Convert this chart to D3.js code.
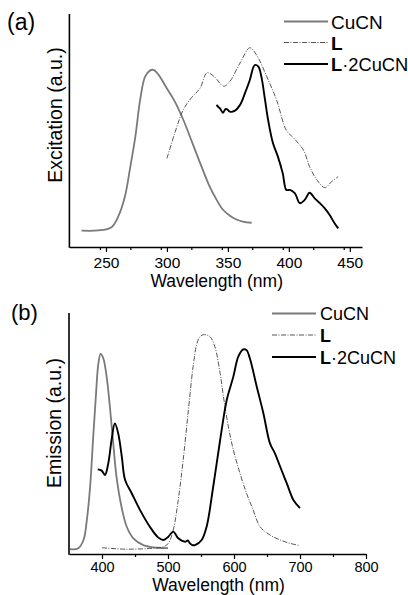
<!DOCTYPE html>
<html><head><meta charset="utf-8">
<script src="https://cdn.jsdelivr.net/npm/d3@7"></script>
<style>body{margin:0;background:#fff}svg{display:block}text{font-family:"Liberation Sans",Arial,sans-serif;fill:#000}</style>
</head><body>
<svg id="c" width="408" height="595"></svg>
<script>
// ---- data: panel (a) excitation [wavelength nm, intensity a.u.]
const excCuCN = [[230,7],[248,7.3],[255,8.7],[260,13],[265.5,21.6],[269.5,33],[274,47],[278,63],[282,73],[286,75.7],[289,76],[293,74],[300,68],[306.5,62.4],[313.5,54.5],[321,44.5],[328,35],[335,26],[341,20],[346,16],[352,13.3],[357,11.8],[363,10.8],[369.5,10.4]];
const excL = [[300,38],[306.5,49],[313.5,59],[320,64],[327,68],[333,74.8],[339,73],[346.5,69],[351.5,71],[360,79],[368,85.5],[373.5,82.4],[382,73],[390,63],[398,50],[403.5,47],[412,41.6],[417,34.5],[423,28.8],[429.5,25.5],[435,28],[440.5,30.2]];
const excLCuCN = [[340.7,61],[342,60.2],[343.5,59.5],[346,57.6],[348,59.2],[349.5,59.1],[351.5,58.1],[355.5,58.4],[360,61],[364,66],[368,71.7],[372,78.1],[375,77.4],[377.5,73],[380.5,63],[383,54.5],[387,44.5],[391,38.8],[395,31.6],[398,24.5],[401,24.5],[405,23],[409,18.8],[413,20.2],[417,23.3],[421,21],[423,20],[425.5,18.8],[429.5,16.6],[433.5,13.7],[437.5,10.2],[440.5,8]];
// ---- data: panel (b) emission
const emCuCN = [[351.5,2],[364,2.4],[372,5.8],[377,14],[382,28],[387,50],[391,66.7],[394.5,79],[398,83],[402,81.2],[407,73.6],[412,61],[417,46],[422,32],[430,19],[437.5,11.3],[447.5,6.5],[462.5,3.7],[483,2.6],[500,2.4]];
const emL = [[400,2.6],[437,2],[478,2.4],[493,3],[500.5,4.4],[508,10],[515.5,22.4],[523,39],[531,60],[538,77.7],[543.5,87],[548,90],[553.5,91],[563.5,90.2],[571,86],[579,75],[584,65.3],[591.5,52.8],[599,43.2],[609,33.5],[619,25.2],[629,18.3],[639.5,11.3],[654.5,7.9],[670,5.8],[685,4.4],[700,3.5]];
const emLCuCN = [[393.5,35.1],[399.5,34.6],[404.5,32.8],[409.5,37.6],[414.5,47.3],[419.5,54.2],[424.5,50.1],[430,40.4],[435,30.7],[445,25.2],[457.5,18.3],[472.5,11.3],[485,6.9],[493,5.8],[500.5,7.2],[508,9.3],[515.5,6.5],[526,5.1],[530,5.6],[533,4.5],[537,3.7],[541,3.7],[551,5.8],[558.5,11.3],[568.5,27.9],[579,47.3],[589,63.9],[599,73.6],[606.5,81.9],[614,84.9],[619,84.6],[624,81.2],[634.5,69.4],[644.5,58.4],[654.5,45.9],[662,41.8],[670,36.2],[680,29.3],[690,22.4],[700,19]];
const ticksA = [250,300,350,400,450];
const ticksB = [400,500,600,700,800];
const seriesNames = ["CuCN","L","L·2CuCN"];

const svg = d3.select("#c");
const styles = [
  {stroke:"#7a7a7a", w:1.8, dash:null},
  {stroke:"#444", w:0.9, dash:"5,1.5,1,1.5"},
  {stroke:"#000", w:1.9, dash:null}
];

function panel(o){
  const x = d3.scaleLinear().domain(o.xd).range([o.left,o.right]);
  const y = d3.scaleLinear().domain([0,100]).range([o.bottom,o.top]);
  const g = svg.append("g");
  const line = d3.line().x(d=>x(d[0])).y(d=>y(d[1])).curve(d3.curveCatmullRom.alpha(0.5));
  o.series.forEach((s,i)=>{
    g.append("path").datum(s).attr("d",line).attr("fill","none")
      .attr("stroke",styles[i].stroke).attr("stroke-width",styles[i].w)
      .attr("stroke-dasharray",styles[i].dash).attr("stroke-linejoin","round");
  });
  const minor = d3.range(o.xd[0],o.xd[1]+0.1,o.minorStep).filter(v=>v%o.majorStep!==0 && v>o.xd[0]);
  g.append("g").attr("transform",`translate(0,${o.bottom})`)
    .call(d3.axisBottom(x).tickValues(minor).tickSize(3).tickFormat(""))
    .call(a=>{a.select(".domain").remove();a.selectAll("line").attr("stroke-width",1.2);});
  const ax = g.append("g").attr("transform",`translate(0,${o.bottom})`)
    .call(d3.axisBottom(x).tickValues(o.ticks).tickSize(5).tickSizeOuter(0).tickPadding(o.tickPad));
  ax.select(".domain").attr("stroke-width",1.6);
  ax.selectAll("line").attr("stroke-width",1.2);
  ax.selectAll("text").attr("font-size",o.tickFs).attr("fill","#000")
    .attr("font-family",'"Liberation Sans",Arial,sans-serif');
  g.append("line").attr("x1",o.left).attr("x2",o.left).attr("y1",o.top).attr("y2",o.bottom+0.8)
    .attr("stroke","#000").attr("stroke-width",1.6);
  g.append("text").attr("x",(o.left+o.right)/2+1).attr("y",o.titleY).attr("text-anchor","middle")
    .attr("font-size",17.5).text("Wavelength (nm)");
  g.append("text").attr("transform",`translate(${o.ylabX},${o.ylabY}) rotate(-90)`)
    .attr("text-anchor","middle").attr("font-size",o.ylabFs).text(o.ylab);
  g.append("text").attr("x",o.tagX).attr("y",o.tagY).attr("font-size",o.tagFs).text(o.tag);
  seriesNames.forEach((n,i)=>{
    const ly = o.legY[i];
    g.append("line").attr("x1",o.legX1).attr("x2",o.legX2).attr("y1",ly).attr("y2",ly)
      .attr("stroke",styles[i].stroke).attr("stroke-width",styles[i].w)
      .attr("stroke-dasharray",styles[i].dash);
    const t = g.append("text").attr("x",o.legX2+o.legGap).attr("y",ly+o.legDy)
      .attr("font-size", n.length>1 && n.startsWith("L") ? o.legFs2 : o.legFs);
    if(n.startsWith("L")){
      t.append("tspan").attr("font-weight","bold").text("L");
      if(n.length>1) t.append("tspan").text(n.slice(1));
    } else t.text(n);
  });
}

panel({xd:[220,460], left:69.4, right:362, top:14, bottom:247,
  series:[excCuCN,excL,excLCuCN], ticks:ticksA, minorStep:25, majorStep:50, tickPad:5, tickFs:15.5,
  titleY:287, ylab:"Excitation (a.u.)", ylabX:62, ylabY:115, ylabFs:19.5,
  tag:"(a)", tagX:7, tagY:30, tagFs:23,
  legX1:284, legX2:328, legGap:3, legY:[21.5,42.5,64], legDy:7, legFs:19, legFs2:18.3});

panel({xd:[350,800], left:69, right:366, top:313, bottom:554,
  series:[emCuCN,emL,emLCuCN], ticks:ticksB, minorStep:50, majorStep:100, tickPad:3, tickFs:14.5,
  titleY:591, ylab:"Emission (a.u.)", ylabX:61, ylabY:423, ylabFs:19.5,
  tag:"(b)", tagX:11, tagY:320, tagFs:22,
  legX1:272, legX2:316, legGap:4, legY:[313.5,335,357], legDy:6.5, legFs:18, legFs2:18});
</script>
</body></html>
